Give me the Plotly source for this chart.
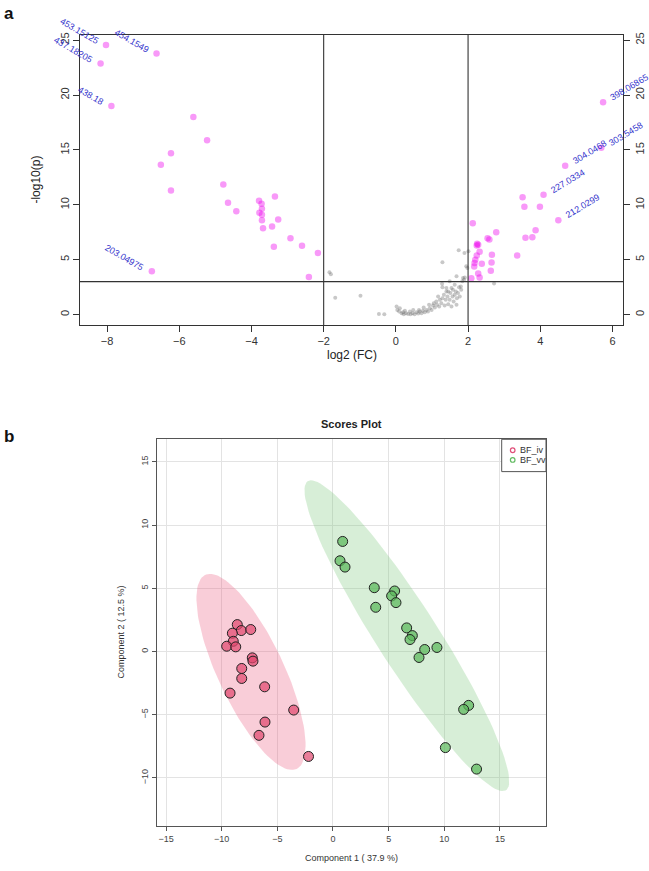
import numpy as np
import plotly.graph_objects as go

# ---------------- Panel a : volcano plot ----------------
gray_fc = [-1.84, -1.80, -1.68, -0.98, -0.47, -0.32,
           0.02, 0.04, 0.09, 0.16, 0.20, 0.22, 0.28, 0.34, 0.41, 0.46,
           0.52, 0.57, 0.62, 0.66, 0.71, 0.75, 0.80, 0.85, 0.89, 0.94,
           0.99, 1.03, 1.08, 1.12, 1.14, 1.20, 1.22, 1.26, 1.29, 1.33,
           1.35, 1.38, 1.40, 1.43, 1.45, 1.49, 1.51, 1.54, 1.57, 1.58,
           1.60, 1.63, 1.66, 1.68, 1.69, 1.72, 1.75, 1.77, 1.80, 1.84,
           1.86, 1.89, 1.91,
           1.40, 1.45, 1.28, 1.29, 1.68, 1.95, 1.98, 1.74, 1.90, 2.01, 1.29, 2.72,
           0.48, 0.11, 0.25, 0.39, 0.64, 0.77, 0.92, 1.05, 1.17, 1.54, 1.81, 1.63, 1.49]
gray_p = [3.85, 3.67, 1.53, 1.71, 0.06, 0.03,
          0.73, 0.43, 0.28, 0.12, 0.21, 0.03, 0.12, 0.06, 0.03, 0.12,
          0.03, 0.21, 0.09, 0.28, 0.12, 0.34, 0.21, 0.43, 0.28, 0.58,
          0.43, 0.83, 0.64, 1.19, 0.89, 0.73, 1.35, 1.04, 1.50, 1.80,
          0.83, 1.35, 2.11, 1.65, 0.95, 1.35, 1.96, 0.73, 1.65, 2.26,
          1.19, 1.80, 2.11, 0.89, 1.50, 1.96, 2.48, 1.65, 2.57, 3.03,
          3.33, 3.18, 3.39,
          2.42, 2.10, 2.81, 2.48, 3.49, 4.40, 4.25, 5.87, 5.62, 5.78, 4.77, 2.84,
          0.43, 0.58, 0.34, 0.28, 0.43, 0.64, 0.89, 1.04, 1.65, 2.42, 2.26, 2.72, 3.03]

sig_fc = [-5.61, -5.23, -6.23, -6.51, -6.23, -4.78, -4.65, -4.42, -3.79, -3.72,
          -3.71, -3.78, -3.71, -3.71, -3.35, -3.26, -3.43, -3.68, -2.92, -3.38,
          -2.60, -2.16, -2.41,
          2.13, 2.25, 2.28, 2.24, 2.32, 2.24, 2.20, 2.18, 2.17, 2.38,
          2.28, 2.32, 2.09, 2.54, 2.59, 2.78, 2.66, 2.65, 2.63, 3.36,
          3.51, 3.56, 3.99, 3.87, 3.78, 3.59]
sig_p = [18.0, 15.87, 14.69, 13.64, 11.3, 11.85, 10.18, 9.42, 10.36, 10.09,
         9.64, 9.27, 9.09, 8.6, 10.75, 8.66, 8.03, 7.87, 6.96, 6.18,
         6.27, 5.6, 3.42,
         8.33, 6.45, 6.36, 6.3, 5.73, 5.39, 5.0, 4.69, 4.39, 4.64,
         3.75, 3.39, 3.3, 6.96, 6.85, 7.51, 5.45, 4.75, 4.0, 5.39,
         10.69, 9.82, 9.82, 7.69, 7.05, 7.0]

lab_names = ["453.15125", "454.1549", "437.18205", "438.18", "203.04975",
             "398.06865", "303.5458", "304.0468", "227.0334", "212.0299"]
lab_fc = [-8.03, -6.63, -8.18, -7.88, -6.76, 5.74, 5.69, 4.69, 4.09, 4.50]
lab_p = [24.55, 23.78, 22.87, 19.0, 3.94, 19.33, 15.2, 13.55, 10.91, 8.6]

fc_cut = [-2, 2]
p_cut = 3
volcano_xticks = [-8, -6, -4, -2, 0, 2, 4, 6]
volcano_yticks = [0, 5, 10, 15, 20, 25]

# ---------------- Panel b : PLS-DA scores plot ----------------
groups = ["BF_iv", "BF_vv"]
iv_c1 = [-8.60, -8.24, -7.39, -9.04, -8.96, -9.55, -8.74, -7.25, -7.19, -8.20,
         -8.20, -6.14, -9.25, -3.53, -6.11, -6.65, -2.20]
iv_c2 = [2.13, 1.66, 1.74, 1.45, 0.81, 0.42, 0.37, -0.50, -0.76, -1.34,
         -2.13, -2.79, -3.29, -4.63, -5.58, -6.63, -8.30]
vv_c1 = [0.87, 0.63, 1.08, 3.71, 3.84, 5.54, 5.27, 5.66, 6.62, 7.13,
         6.92, 8.24, 9.34, 7.73, 12.19, 11.74, 10.10, 12.90]
vv_c2 = [8.71, 7.18, 6.68, 5.05, 3.50, 4.79, 4.40, 3.87, 1.87, 1.26,
         0.95, 0.16, 0.32, -0.47, -4.26, -4.58, -7.60, -9.30]
score_ticks = [-15, -10, -5, 0, 5, 10, 15]
comp1_title = "Component 1 ( 37.9 %)"
comp2_title = "Component 2 ( 12.5 %)"

# ---------------- helpers ----------------
W, H = 649, 871
FONT = "Liberation Sans, Arial, sans-serif"


def px(x):
    return x / W


def py(y):
    return 1 - y / H


def conf_ellipse(x, y, level=0.95, n=120):
    pts = np.column_stack([x, y])
    mu = pts.mean(axis=0)
    cov = np.cov(pts.T)
    vals, vecs = np.linalg.eigh(cov)
    t = np.linspace(0, 2 * np.pi, n)
    circ = np.vstack([np.cos(t), np.sin(t)])
    r = np.sqrt(-2 * np.log(1 - level))
    e = vecs @ (np.sqrt(vals)[:, None] * circ) * r + mu[:, None]
    return e[0], e[1]


fig = go.Figure()

# volcano traces
fig.add_trace(go.Scatter(x=gray_fc, y=gray_p, mode="markers", xaxis="x", yaxis="y",
                         marker=dict(size=4, color="rgba(110,110,110,0.38)"),
                         showlegend=False, hoverinfo="x+y"))
fig.add_trace(go.Scatter(x=sig_fc + lab_fc, y=sig_p + lab_p, mode="markers",
                         xaxis="x", yaxis="y",
                         marker=dict(size=6.5, color="rgba(238,0,238,0.40)"),
                         showlegend=False, hoverinfo="x+y"))
# invisible trace to hold right-hand axis
fig.add_trace(go.Scatter(x=lab_fc, y=lab_p, mode="markers", xaxis="x", yaxis="y2",
                         marker=dict(size=1, color="rgba(0,0,0,0)"),
                         showlegend=False, hoverinfo="skip"))

# scores plot traces
ell_cols = ["rgba(236,90,125,0.30)", "rgba(110,195,110,0.28)"]
pt_cols = ["rgba(225,70,110,0.70)", "rgba(90,185,90,0.72)"]
for g, cx, cy, ec in zip(groups, [iv_c1, vv_c1], [iv_c2, vv_c2], ell_cols):
    ex, ey = conf_ellipse(cx, cy)
    fig.add_trace(go.Scatter(x=ex, y=ey, mode="lines", fill="toself", fillcolor=ec,
                             line=dict(width=0), xaxis="x3", yaxis="y3",
                             showlegend=False, hoverinfo="skip"))
for g, cx, cy, pc in zip(groups, [iv_c1, vv_c1], [iv_c2, vv_c2], pt_cols):
    fig.add_trace(go.Scatter(x=cx, y=cy, mode="markers", name=g, xaxis="x3", yaxis="y3",
                             marker=dict(size=10, color=pc, line=dict(color="#222", width=1)),
                             showlegend=False))

annotations = []
# point labels
for name, fx, fy in zip(lab_names, lab_fc, lab_p):
    left = fx < 0
    annotations.append(dict(
        x=fx, y=fy, xref="x", yref="y", text=name, showarrow=False,
        textangle=30 if left else -31,
        xanchor="right" if left else "left", yanchor="bottom",
        xshift=-3 if left else 3, yshift=-4 if left else -3,
        font=dict(family=FONT, size=9, color="#3434cc")))

# titles / panel letters
annotations += [
    dict(x=px(9), y=py(12), xref="paper", yref="paper", text="<b>a</b>", showarrow=False,
         xanchor="center", yanchor="middle", font=dict(family=FONT, size=17, color="#111")),
    dict(x=px(9), y=py(435), xref="paper", yref="paper", text="<b>b</b>", showarrow=False,
         xanchor="center", yanchor="middle", font=dict(family=FONT, size=17, color="#111")),
    dict(x=px(351.5), y=py(354), xref="paper", yref="paper", text="log2 (FC)", showarrow=False,
         xanchor="center", yanchor="middle", font=dict(family=FONT, size=12, color="#222")),
    dict(x=px(36), y=py(178), xref="paper", yref="paper", text="-log10(p)", showarrow=False,
         textangle=-90, xanchor="center", yanchor="middle",
         font=dict(family=FONT, size=12, color="#222")),
    dict(x=px(351), y=py(423), xref="paper", yref="paper", text="<b>Scores Plot</b>",
         showarrow=False, xanchor="center", yanchor="middle",
         font=dict(family=FONT, size=11, color="#222")),
    dict(x=px(351), y=py(858), xref="paper", yref="paper", text=comp1_title, showarrow=False,
         xanchor="center", yanchor="middle", font=dict(family=FONT, size=9, color="#333")),
    dict(x=px(121), y=py(632), xref="paper", yref="paper", text=comp2_title, showarrow=False,
         textangle=-90, xanchor="center", yanchor="middle",
         font=dict(family=FONT, size=9, color="#333")),
]

# legend (drawn manually to match the compact R legend)
leg_x0, leg_x1, leg_y0, leg_y1 = 501.7, 546, 438.3, 470.7
leg_rows = [449.3, 459.0]
leg_cols = ["#e0507a", "#62bb62"]
shapes = [
    dict(type="rect", xref="paper", yref="paper", x0=px(leg_x0), x1=px(leg_x1),
         y0=py(leg_y1), y1=py(leg_y0), line=dict(color="#555", width=1),
         fillcolor="white", layer="above"),
]
for g, ry, c in zip(groups, leg_rows, leg_cols):
    shapes.append(dict(type="circle", xref="paper", yref="paper",
                       x0=px(510.4), x1=px(515.0), y0=py(ry + 2.3), y1=py(ry - 2.3),
                       line=dict(color=c, width=1.2), layer="above"))
    annotations.append(dict(x=px(518), y=py(ry), xref="paper", yref="paper", text=g,
                            showarrow=False, xanchor="left", yanchor="middle",
                            font=dict(family=FONT, size=9, color="#333")))

# threshold lines
for c in fc_cut:
    shapes.append(dict(type="line", xref="x", yref="y domain", x0=c, x1=c, y0=0, y1=1,
                       line=dict(color="#333", width=1.1)))
shapes.append(dict(type="line", xref="x domain", yref="y", x0=0, x1=1, y0=p_cut, y1=p_cut,
                   line=dict(color="#333", width=1.1)))

axis_common = dict(showgrid=False, zeroline=False, showline=True, linecolor="#333",
                   linewidth=1, ticks="outside", tickcolor="#333", ticklen=6,
                   tickfont=dict(family=FONT, size=11, color="#333"))

fig.update_layout(
    width=W, height=H, autosize=False,
    margin=dict(l=0, r=0, t=0, b=0),
    paper_bgcolor="white", plot_bgcolor="white",
    showlegend=False,
    xaxis=dict(domain=[px(80), px(623.3)], range=[-8.75, 6.30], anchor="y",
               tickvals=volcano_xticks, mirror=True, **axis_common),
    yaxis=dict(domain=[py(324), py(32.7)], range=[-0.97, 25.5], anchor="x",
               tickvals=volcano_yticks, tickangle=-90, mirror=True, **axis_common),
    yaxis2=dict(overlaying="y", side="right", anchor="x", range=[-0.97, 25.5],
                tickvals=volcano_yticks, tickangle=-90, **axis_common),
    xaxis3=dict(domain=[px(156.7), px(546)], range=[-15.84, 19.14], anchor="y3",
                tickvals=score_ticks, showgrid=True, gridcolor="#e3e3e3", gridwidth=1,
                zeroline=False, showline=True, linecolor="#555", mirror=True,
                ticks="outside", tickcolor="#555", ticklen=4,
                tickfont=dict(family=FONT, size=9, color="#444")),
    yaxis3=dict(domain=[py(826), py(438.3)], range=[-13.81, 16.79], anchor="x3",
                tickvals=score_ticks, showgrid=True, gridcolor="#e3e3e3", gridwidth=1,
                zeroline=False, showline=True, linecolor="#555", mirror=True,
                ticks="outside", tickcolor="#555", ticklen=4, tickangle=-90,
                tickfont=dict(family=FONT, size=9, color="#444")),
    annotations=annotations,
    shapes=shapes,
)

fig.write_html("out.html",
               config={"displayModeBar": False},
               post_script="document.body.style.margin='0px';"
                           "document.body.style.overflow='hidden';")
